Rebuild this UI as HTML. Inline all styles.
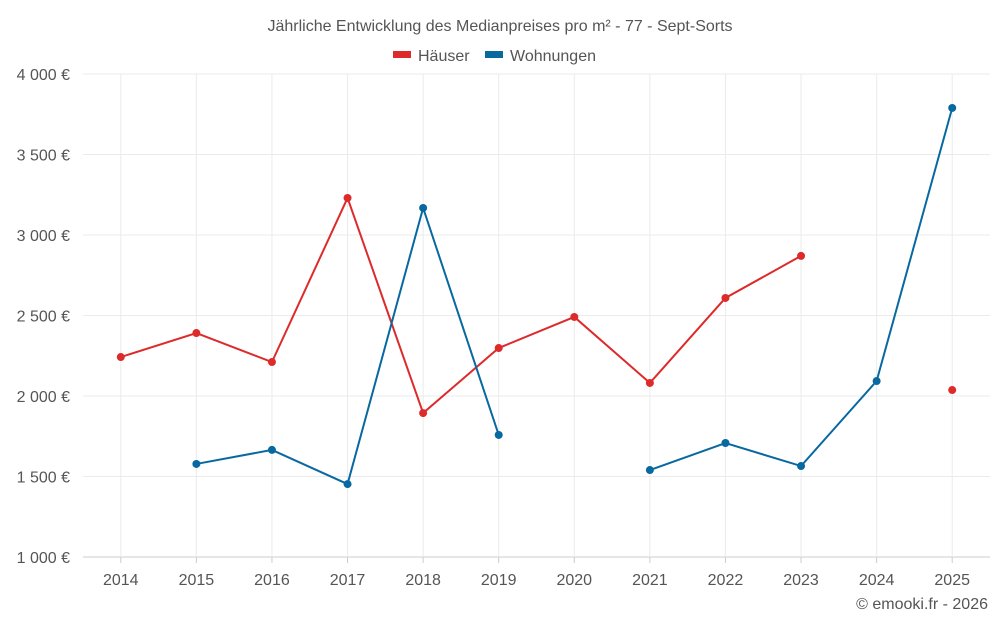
<!DOCTYPE html>
<html><head><meta charset="utf-8"><style>
body{margin:0;background:#fff;font-family:"Liberation Sans",sans-serif;}
svg text{font-family:"Liberation Sans",sans-serif;fill:#555;}
</style></head><body>
<svg id="chart" width="1000" height="625">
<text x="500" y="31" text-anchor="middle" font-size="16">Jährliche Entwicklung des Medianpreises pro m² - 77 - Sept-Sorts</text>
<g>
<rect x="393" y="51" width="18" height="7" fill="#dd2a2a"/>
<text x="418" y="61" font-size="16">Häuser</text>
<rect x="485" y="51" width="18" height="7" fill="#0868a0"/>
<text x="510" y="61" font-size="16">Wohnungen</text>
</g>
<g id="grid"></g><g id="axes"></g><g id="series"></g>
<text x="988" y="609" text-anchor="end" font-size="16">© emooki.fr - 2026</text>
</svg>
<script>
const years=[2014,2015,2016,2017,2018,2019,2020,2021,2022,2023,2024,2025];
const haeuser=[2242,2391,2211,3230,1894,2298,2491,2081,2609,2870,null,2037];
const wohnungen=[null,1578,1665,1453,3168,1758,null,1540,1708,1565,2093,3789];
const yTicks=[1000,1500,2000,2500,3000,3500,4000];
const yTickLabels=["1 000 €","1 500 €","2 000 €","2 500 €","3 000 €","3 500 €","4 000 €"];
const L=83,R=990,T=74,B=557,yMin=1000,yMax=4000;
const bw=(R-L)/years.length;
const xS=i=>L+bw*(i+0.5);
const yS=v=>B-(v-yMin)/(yMax-yMin)*(B-T);
const NS="http://www.w3.org/2000/svg";
function mk(tag,attrs,parent){const e=document.createElementNS(NS,tag);for(const k in attrs)e.setAttribute(k,attrs[k]);parent.appendChild(e);return e;}
const grid=document.getElementById('grid'),axes=document.getElementById('axes'),ser=document.getElementById('series');
yTicks.forEach((t,i)=>{
 const l=mk('line',{x1:L,x2:R,y1:yS(t),y2:yS(t),stroke:i==0?'#ccc':'#ebebeb'},grid);
 
 
 const tx=mk('text',{x:70,y:yS(t)+6,'text-anchor':'end','font-size':16},axes);
 tx.textContent=yTickLabels[i];
 
 
});
years.forEach((y,i)=>{
 const l=mk('line',{x1:xS(i),x2:xS(i),y1:T,y2:B,stroke:'#ebebeb'},grid);
 
 
 const tk=mk('line',{x1:xS(i),x2:xS(i),y1:B,y2:B+6,stroke:'#ccc'},axes);
 
 
 const tx=mk('text',{x:xS(i),y:585,'text-anchor':'middle','font-size':16},axes);
 tx.textContent=y;
 
 
});
function draw(vals,color,name){
 let d='',pen=false;
 vals.forEach((v,i)=>{if(v==null){pen=false;return;}d+=(pen?'L':'M')+xS(i)+','+yS(v);pen=true;});
 const p=mk('path',{d:d,fill:'none',stroke:color,'stroke-width':2},ser);
 
 
 vals.forEach((v,i)=>{if(v==null)return;
  const c=mk('circle',{cx:xS(i),cy:yS(v),r:4,fill:color},ser);
  
  
 });
}
draw(haeuser,'#dd2a2a','haeuser');
draw(wohnungen,'#0868a0','wohnungen');
</script>
</body></html>
